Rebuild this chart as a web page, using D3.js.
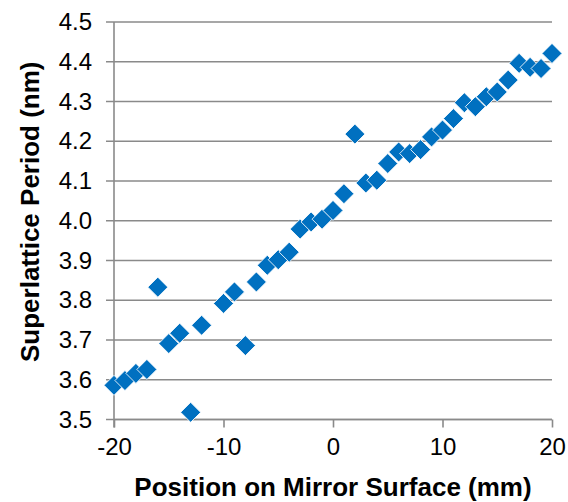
<!DOCTYPE html>
<html>
<head>
<meta charset="utf-8">
<script src="https://cdn.jsdelivr.net/npm/d3@7"></script>
<style>
  html, body { margin: 0; padding: 0; background: #fff; }
  svg text { font-family: "Liberation Sans", Arial, sans-serif; fill: #000; }
</style>
</head>
<body>
<svg id="chart" width="568" height="502"></svg>
<script>
// Measured superlattice period across the mirror surface
const positions = [-20, -19, -18, -17, -16, -15, -14, -13, -12, -10, -9, -8, -7, -6, -5, -4, -3, -2, -1, 0,
                   1, 2, 3, 4, 5, 6, 7, 8, 9, 10, 11, 12, 13, 14, 15, 16, 17, 18, 19, 20];
const periods = [3.586, 3.598, 3.616, 3.626, 3.833, 3.691, 3.717, 3.518, 3.737, 3.792, 3.821, 3.686, 3.846, 3.888, 3.902, 3.921, 3.979, 3.997, 4.004, 4.026,
                 4.068, 4.218, 4.095, 4.102, 4.144, 4.173, 4.169, 4.179, 4.211, 4.228, 4.257, 4.297, 4.287, 4.312, 4.324, 4.354, 4.396, 4.386, 4.383, 4.421];
const xTicks = [-20, -10, 0, 10, 20];
const yTicks = [3.5, 3.6, 3.7, 3.8, 3.9, 4.0, 4.1, 4.2, 4.3, 4.4, 4.5];
const xTitle = "Position on Mirror Surface (mm)";
const yTitle = "Superlattice Period (nm)";

const svg = d3.select("#chart");
const plotLeft = 114, plotRight = 552, plotTop = 22, plotBottom = 419.5;

const x = d3.scaleLinear().domain([-20, 20]).range([plotLeft, plotRight]);
const y = d3.scaleLinear().domain([3.5, 4.5]).range([plotBottom, plotTop]);

const gridColor = "#8a8a8a";
const fontFamily = "Liberation Sans, Arial, sans-serif";

// horizontal gridlines, each poking out left of the axis as a tick
svg.append("g")
  .selectAll("line")
  .data(yTicks)
  .join("line")
  .attr("x1", plotLeft - 8)
  .attr("x2", plotRight)
  .attr("y1", d => y(d))
  .attr("y2", d => y(d))
  .attr("stroke", gridColor)
  .attr("stroke-width", 1.6);

// y axis labels
const yAxis = d3.axisLeft(y).tickValues(yTicks).tickFormat(d3.format(".1f")).tickSize(0).tickPadding(22);
const gy = svg.append("g").attr("transform", `translate(${plotLeft},0)`).call(yAxis);
gy.select(".domain").remove();
gy.selectAll("text").attr("font-size", 24).attr("font-family", fontFamily).attr("fill", "#000");

// x axis with downward ticks (plain hyphen for negatives)
const xAxis = d3.axisBottom(x).tickValues(xTicks).tickFormat(d => String(d)).tickSize(8).tickPadding(10);
const gx = svg.append("g").attr("transform", `translate(0,${plotBottom})`).call(xAxis);
gx.select(".domain").attr("stroke", gridColor).attr("stroke-width", 1.6).attr("d", `M${plotLeft},0H${plotRight}`);
gx.selectAll(".tick line").attr("stroke", gridColor).attr("stroke-width", 1.6);
gx.selectAll("text").attr("font-size", 24).attr("font-family", fontFamily).attr("fill", "#000");

// vertical axis line
svg.append("line")
  .attr("x1", plotLeft).attr("x2", plotLeft)
  .attr("y1", plotTop).attr("y2", plotBottom + 8)
  .attr("stroke", gridColor).attr("stroke-width", 1.6);

// diamond markers
const diamond = d3.symbol().type(d3.symbolSquare).size(200);
svg.append("g")
  .selectAll("path")
  .data(positions.map((p, i) => [p, periods[i]]))
  .join("path")
  .attr("d", diamond)
  .attr("transform", d => `translate(${x(d[0])},${y(d[1])}) rotate(45)`)
  .attr("fill", "#0070c0")
  .attr("stroke", "#ffffff")
  .attr("stroke-width", 0.8);

// axis titles
svg.append("text")
  .attr("x", (plotLeft + plotRight) / 2)
  .attr("y", 496)
  .attr("text-anchor", "middle")
  .attr("font-size", 26)
  .attr("font-weight", "bold")
  .text(xTitle);

svg.append("text")
  .attr("transform", `translate(39,${(plotTop + plotBottom) / 2 - 9}) rotate(-90)`)
  .attr("text-anchor", "middle")
  .attr("font-size", 26)
  .attr("font-weight", "bold")
  .text(yTitle);
</script>
</body>
</html>
